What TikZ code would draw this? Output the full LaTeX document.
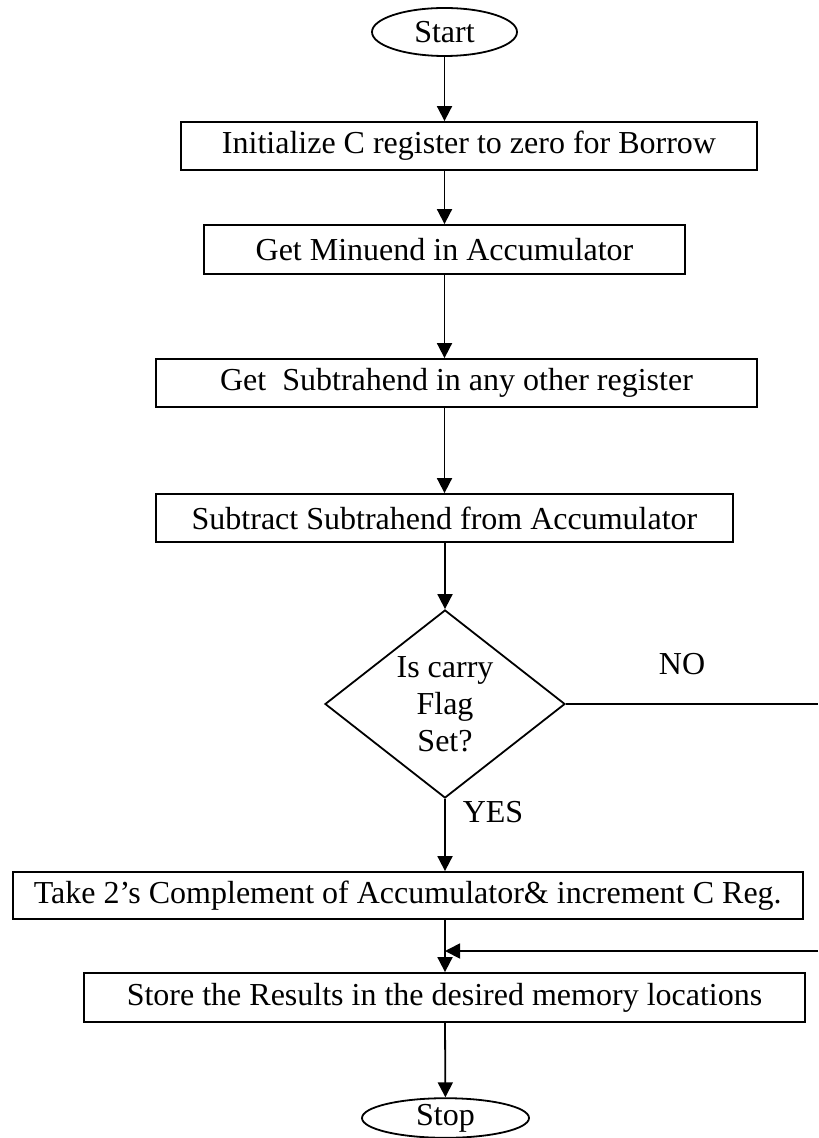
\documentclass[tikz,border=0pt]{standalone}
\usepackage{fontspec}
\setmainfont{Liberation Serif}
\usetikzlibrary{shapes.geometric,arrows.meta}

\begin{document}
\begin{tikzpicture}[x=0.5pt,y=-0.5pt,line width=0.9pt,
		font=\fontsize{16}{18.5}\selectfont,
		blk/.style={draw,rectangle,inner sep=0pt},
		term/.style={draw,ellipse,inner sep=0pt},
		arr/.style={-{Triangle[length=7.5pt,width=7.5pt]}}]
			\useasboundingbox (0,0) rectangle (818,1138);
			\node[term,minimum width=72.5pt,minimum height=24pt] (start) at (444.5,32) {Start};
			\node[blk,minimum width=288pt,minimum height=24pt] (init) at (469,146) {Initialize C register to zero for Borrow\hspace{9pt}};
			\node[blk,minimum width=240.5pt,minimum height=24.5pt] (minuend) at (444.5,249.5) {Get Minuend in Accumulator};
			\node[blk,minimum width=300.5pt,minimum height=24pt] (subtr) at (456.5,383) {Get\ \ Subtrahend in any other register};
			\node[blk,minimum width=288.5pt,minimum height=24pt] (sub) at (444.5,518) {Subtract Subtrahend from Accumulator};
			\node[draw,diamond,inner sep=0pt,minimum width=120pt,minimum height=94pt,
				label={[align=center]center:Is carry\\Flag\\Set?}] (check) at (445,704) {};
			\node[blk,minimum width=395pt,minimum height=23.5pt] (take) at (407.75,895.5) {Take 2’s Complement of Accumulator\& increment C Reg.};
			\node[blk,minimum width=360.5pt,minimum height=24.5pt] (store) at (444.5,997.5) {Store the Results in the desired memory locations};
			\node[term,minimum width=83.5pt,minimum height=19pt] (stop) at (445.5,1118) {Stop};
			\node (no) at (682,664) {NO};
			\node (yes) at (493,812) {YES};
			\coordinate (noend) at (818,704);
			\coordinate (backin) at (818,951);
			\draw[arr] (start) -- (start |- init.north);
			\draw[arr] (init.south -| start) -- (start |- minuend.north);
			\draw[arr] (minuend.south -| start) -- (start |- subtr.north);
			\draw[arr] (subtr.south -| start) -- (start |- sub.north);
			\draw[arr] (sub.south -| check) -- (check.north);
			\draw (check.east) -- (noend);
			\draw[arr] (check.south) -- (check.south |- take.north);
			\draw[arr] (take.south -| check) -- (store.north -| check);
			\draw[arr] (backin) -- (backin -| check);
			\draw[arr] (store.south -| check) -- (stop);
		\end{tikzpicture}
\end{document}
